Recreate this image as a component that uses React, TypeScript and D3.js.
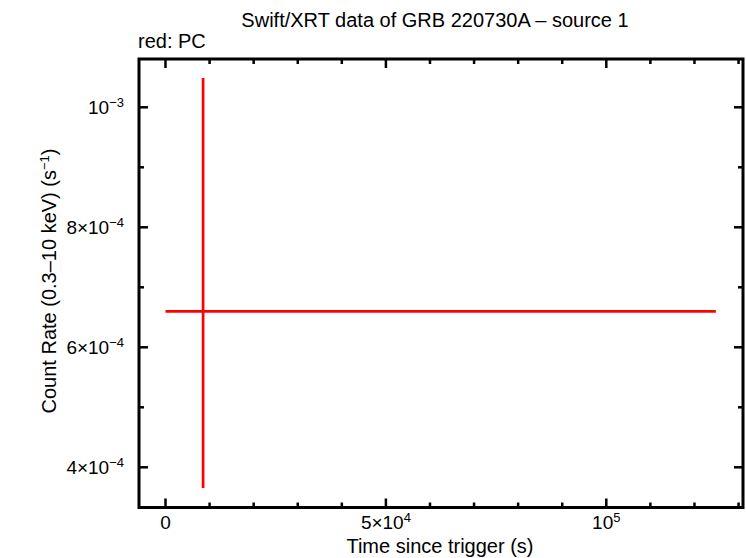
import React from "react";
import * as d3 from "d3";

// light curve bin (PC mode)
const tStart = [0];
const tEnd = [124850];
const tMid = [8526];
const rate = [6.6e-4];
const rateLo = [3.655e-4];
const rateHi = [1.049e-3];

// axis ticks
const xMajor = [0, 5e4, 1e5];
const xMajorLabels: [string, string][] = [
  ["0", ""],
  ["5×10", "4"],
  ["10", "5"],
];
const xMinor = [1e4, 2e4, 3e4, 4e4, 6e4, 7e4, 8e4, 9e4, 1.1e5, 1.2e5, 1.3e5];
const yMajor = [4e-4, 6e-4, 8e-4, 1e-3];
const yMajorLabels: [string, string][] = [
  ["4×10", "−4"],
  ["6×10", "−4"],
  ["8×10", "−4"],
  ["10", "−3"],
];
const yMinor = [5e-4, 7e-4, 9e-4];

const W = 746;
const H = 558;
const left = 139;
const right = 743;
const top = 59;
const bottom = 507.5;
const font = "'Liberation Sans', Arial, Helvetica, sans-serif";

const App = () => {
  const x = d3.scaleLinear().domain([-6012, 131010]).range([left, right]);
  const y = d3.scaleLinear().domain([3.33e-4, 1.0805e-3]).range([bottom, top]);
  const red = "#ff0000";

  return (
    <svg
      width={W}
      height={H}
      style={{ position: "absolute", left: 0, top: 0, background: "#fff" }}
      fontFamily={font}
    >
      {/* title */}
      <text x={435} y={27} fontSize={20} textAnchor="middle">
        Swift/XRT data of GRB 220730A – source 1
      </text>
      <text x={138} y={48} fontSize={20}>
        red: PC
      </text>

      {/* data */}
      {tMid.map((t, i) => (
        <g key={i} stroke={red} strokeWidth={2.7}>
          <line x1={x(tStart[i])} x2={x(tEnd[i])} y1={y(rate[i])} y2={y(rate[i])} />
          <line x1={x(t)} x2={x(t)} y1={y(rateLo[i])} y2={y(rateHi[i])} />
        </g>
      ))}

      {/* ticks */}
      <g stroke="#000" strokeWidth={2.5}>
        {xMajor.map((v) => (
          <g key={"xM" + v}>
            <line x1={x(v)} x2={x(v)} y1={bottom} y2={bottom - 9} />
            <line x1={x(v)} x2={x(v)} y1={top} y2={top + 9} />
          </g>
        ))}
        {xMinor.map((v) => (
          <g key={"xm" + v}>
            <line x1={x(v)} x2={x(v)} y1={bottom} y2={bottom - 5} />
            <line x1={x(v)} x2={x(v)} y1={top} y2={top + 5} />
          </g>
        ))}
        {yMajor.map((v) => (
          <g key={"yM" + v}>
            <line x1={left} x2={left + 9} y1={y(v)} y2={y(v)} />
            <line x1={right} x2={right - 9} y1={y(v)} y2={y(v)} />
          </g>
        ))}
        {yMinor.map((v) => (
          <g key={"ym" + v}>
            <line x1={left} x2={left + 5} y1={y(v)} y2={y(v)} />
            <line x1={right} x2={right - 5} y1={y(v)} y2={y(v)} />
          </g>
        ))}
      </g>

      {/* frame */}
      <rect
        x={left}
        y={top}
        width={right - left}
        height={bottom - top}
        fill="none"
        stroke="#000"
        strokeWidth={3}
      />

      {/* tick labels */}
      {xMajor.map((v, i) => (
        <text key={"xl" + v} x={x(v)} y={529} fontSize={19} textAnchor="middle">
          {xMajorLabels[i][0]}
          {xMajorLabels[i][1] && (
            <tspan fontSize={13} dy={-7}>
              {xMajorLabels[i][1]}
            </tspan>
          )}
        </text>
      ))}
      {yMajor.map((v, i) => (
        <text key={"yl" + v} x={124} y={y(v) + 6.5} fontSize={19} textAnchor="end">
          {yMajorLabels[i][0]}
          <tspan fontSize={13} dy={-7}>
            {yMajorLabels[i][1]}
          </tspan>
        </text>
      ))}

      {/* axis labels */}
      <text x={440} y={553} fontSize={20} textAnchor="middle">
        Time since trigger (s)
      </text>
      <text transform="translate(56,281) rotate(-90)" fontSize={20} textAnchor="middle">
        Count Rate (0.3–10 keV) (s
        <tspan fontSize={13} dy={-7}>
          −1
        </tspan>
        <tspan dy={7}>)</tspan>
      </text>
    </svg>
  );
};

export default App;
